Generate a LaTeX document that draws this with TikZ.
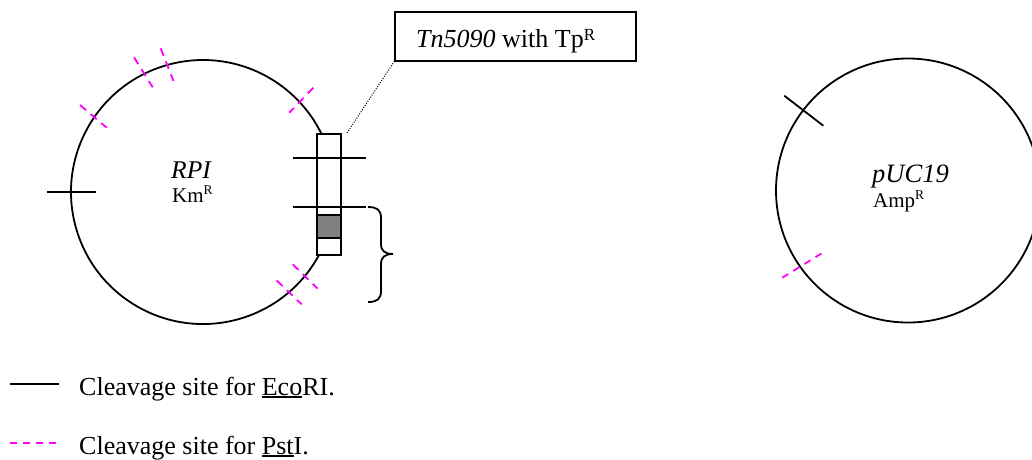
\documentclass[tikz,border=0pt]{standalone}
\usepackage{fontspec}
\setmainfont{Liberation Serif}
\definecolor{pstmag}{RGB}{255,0,255}
\definecolor{tpgray}{RGB}{128,128,128}
\newcommand\myul[1]{\setbox0\hbox{#1}\rlap{\rule[-2.8pt]{\wd0}{1.4pt}}#1}
\newcommand\supr[2]{\raisebox{#2pt}{\fontsize{#1}{#1}\selectfont R}}
\tikzset{
  plasmid/.style={line width=1.8pt, black},
  eco/.style={line width=1.8pt, black},
  pst/.style={line width=1.8pt, pstmag, dash pattern=on 8pt off 6pt},
  lbl/.style={inner sep=0pt, anchor=base west},
  boxed/.style={draw, line width=1.8pt, inner sep=0pt}
}
\begin{document}
\begin{tikzpicture}[x=1pt,y=-1pt]
\clip (0,0) rectangle (1032,459);
\fill[white] (0,0) rectangle (1032,459);

% ---------- RPI plasmid ----------
\draw[plasmid] (319,255) arc[start angle=28.5, end angle=333.8, radius=132];
\node[lbl, font=\fontsize{25.5}{30}\selectfont\itshape] (rpi) at (171,178) {RPI};
\node[lbl, font=\fontsize{21}{24}\selectfont] (km) at (172,202) {Km\supr{13.5}{8}};

% transposon insert
\node[boxed, minimum width=24pt, minimum height=121pt] (tn) at (329,194.5) {};
\node[boxed, fill=tpgray, minimum width=24pt, minimum height=23pt] (tp) at (329,226.5) {};

% EcoRI sites (RPI)
\draw[eco] (47,192) -- (96,192);
\draw[eco] (293,158) -- (366,158);
\draw[eco] (293,207) -- (366,207);

% PstI sites (RPI)
\draw[pst] (80,105) -- (106.7,127.7);
\draw[pst] (134,57.3) -- (152.7,87.3);
\draw[pst] (160.7,48.3) -- (173.5,81);
\draw[pst] (313.3,87.7) -- (289.3,112.7);
\draw[pst] (276.7,280.5) -- (301.7,304.3);
\draw[pst] (292.7,264.3) -- (317.5,288.5);

% brace
\draw[line width=1.8pt] (368,207) .. controls (377,207) and (381,210) .. (381,218)
  -- (381,244) .. controls (381,251) and (385,254) .. (393,254)
  .. controls (385,254) and (381,257) .. (381,264)
  -- (381,291) .. controls (381,299) and (377,302) .. (368,302);

% Tn5090 label
\node[boxed, minimum width=241pt, minimum height=48.5pt] (tnbox) at (515.5,36.5) {};
\node[lbl, font=\fontsize{26}{30}\selectfont] (tnlabel) at (416,47)
  {\textit{Tn5090} with Tp\supr{17}{6.3}};
\coordinate (tntop) at (347,133);
\draw[line width=1pt, dash pattern=on 1pt off 1.5pt] (tntop) -- (tnbox.south west);

% ---------- pUC19 plasmid ----------
\draw[plasmid] (908,190.5) circle[radius=132];
\node[lbl, font=\fontsize{26.5}{30}\selectfont\itshape] (puc) at (872,182) {pUC19};
\node[lbl, font=\fontsize{21}{24}\selectfont] (amp) at (873,207) {Amp\supr{13.5}{7.7}};
\draw[eco] (784.3,95.7) -- (823.3,125.7);
\draw[pst, dash pattern=on 7pt off 6pt] (782.3,277.7) -- (824.3,251.7);

% ---------- legend ----------
\coordinate (le1a) at (10,384);
\coordinate (le1b) at (59,384);
\draw[eco] (le1a) -- (le1b);
\node[lbl, font=\fontsize{26}{30}\selectfont] (leg1) at (79,395)
  {Cleavage site for \myul{Eco}RI.};
\coordinate (le2a) at (10,443);
\coordinate (le2b) at (59,443);
\draw[pst, line width=2pt, dash pattern=on 7pt off 6pt] (le2a) -- (le2b);
\node[lbl, font=\fontsize{26}{30}\selectfont] (leg2) at (79,454)
  {Cleavage site for \myul{Pst}I.};
\end{tikzpicture}
\end{document}
